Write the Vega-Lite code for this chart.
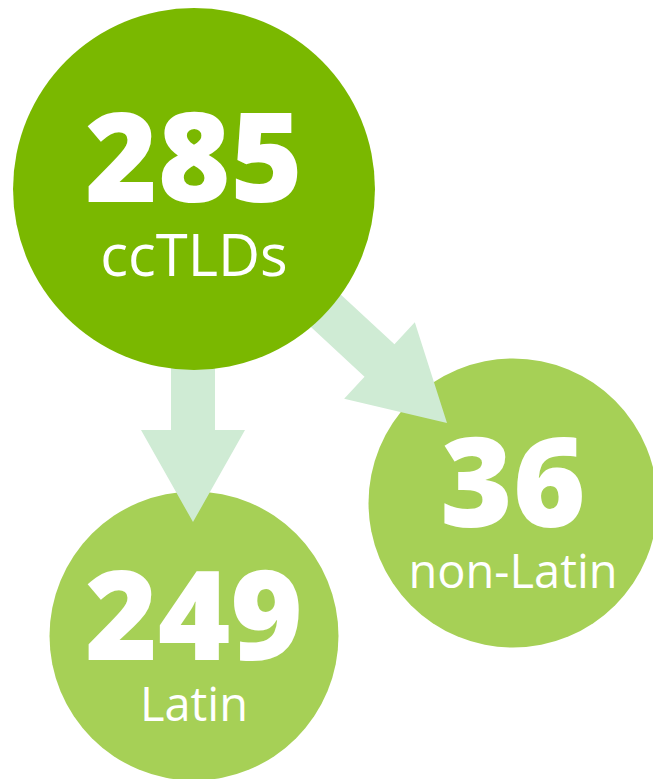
{
  "$schema": "https://vega.github.io/schema/vega-lite/v6.json",
  "width": 653,
  "height": 779,
  "padding": 0,
  "autosize": {"type": "none"},
  "background": "#ffffff",
  "config": {"view": {"stroke": null}},
  "datasets": {
    "nodes": [
      {"name": "ccTLDs", "count": 285, "level": "total", "cx": 194, "cy": 189},
      {"name": "Latin", "count": 249, "level": "subset", "cx": 194, "cy": 636},
      {"name": "non-Latin", "count": 36, "level": "subset", "cx": 513, "cy": 503}
    ],
    "links": [
      {"from": "ccTLDs", "to": "Latin", "tipx": 193, "tipy": 522, "angle": 0},
      {"from": "ccTLDs", "to": "non-Latin", "tipx": 447, "tipy": 423, "angle": -47.2}
    ]
  },
  "layer": [
    {
      "data": {"name": "nodes"},
      "transform": [{"filter": "datum.level === 'subset'"}],
      "mark": {"type": "point", "shape": "circle", "filled": true, "opacity": 1, "strokeWidth": 0},
      "encoding": {
        "x": {"field": "cx", "type": "quantitative", "scale": {"domain": [0, 653], "nice": false, "zero": false}, "axis": null},
        "y": {"field": "cy", "type": "quantitative", "scale": {"domain": [0, 779], "nice": false, "zero": false, "reverse": true}, "axis": null},
        "size": {"field": "level", "type": "nominal", "scale": {"domain": ["total", "subset"], "range": [131000, 83500]}, "legend": null},
        "color": {"field": "level", "type": "nominal", "scale": {"domain": ["total", "subset"], "range": ["#7ab800", "#a6d056"]}, "legend": null}
      }
    },
    {
      "data": {"name": "links"},
      "mark": {"type": "point", "shape": "M0,0 L-52,-92 L-22,-92 L-22,-240 L22,-240 L22,-92 L52,-92 Z", "size": 4, "filled": true, "opacity": 1, "strokeWidth": 0, "color": "#cfebd4"},
      "encoding": {
        "x": {"field": "tipx", "type": "quantitative"},
        "y": {"field": "tipy", "type": "quantitative"},
        "angle": {"field": "angle", "type": "quantitative", "scale": null}
      }
    },
    {
      "data": {"name": "nodes"},
      "transform": [{"filter": "datum.level === 'total'"}],
      "mark": {"type": "point", "shape": "circle", "filled": true, "opacity": 1, "strokeWidth": 0},
      "encoding": {
        "x": {"field": "cx", "type": "quantitative"},
        "y": {"field": "cy", "type": "quantitative"},
        "size": {"field": "level", "type": "nominal", "legend": null},
        "color": {"field": "level", "type": "nominal", "legend": null}
      }
    },
    {
      "data": {"name": "nodes"},
      "transform": [{"filter": "datum.level === 'total'"}],
      "mark": {"type": "text", "font": "Open Sans", "fontWeight": 800, "fontSize": 124, "color": "#ffffff", "align": "center", "baseline": "alphabetic", "dy": 13},
      "encoding": {
        "x": {"field": "cx", "type": "quantitative"},
        "y": {"field": "cy", "type": "quantitative"},
        "text": {"field": "count", "type": "quantitative"}
      }
    },
    {
      "data": {"name": "nodes"},
      "transform": [{"filter": "datum.level === 'subset'"}],
      "mark": {"type": "text", "font": "Open Sans", "fontWeight": 800, "fontSize": 124, "color": "#ffffff", "align": "center", "baseline": "alphabetic", "dy": 24},
      "encoding": {
        "x": {"field": "cx", "type": "quantitative"},
        "y": {"field": "cy", "type": "quantitative"},
        "text": {"field": "count", "type": "quantitative"}
      }
    },
    {
      "data": {"name": "nodes"},
      "transform": [{"filter": "datum.level === 'total'"}],
      "mark": {"type": "text", "font": "Open Sans", "fontWeight": "normal", "fontSize": 58, "color": "#ffffff", "align": "center", "baseline": "alphabetic", "dy": 87},
      "encoding": {
        "x": {"field": "cx", "type": "quantitative"},
        "y": {"field": "cy", "type": "quantitative"},
        "text": {"field": "name", "type": "nominal"}
      }
    },
    {
      "data": {"name": "nodes"},
      "transform": [{"filter": "datum.level === 'subset'"}],
      "mark": {"type": "text", "font": "Open Sans", "fontWeight": "normal", "fontSize": 47, "color": "#ffffff", "align": "center", "baseline": "alphabetic", "dy": 85},
      "encoding": {
        "x": {"field": "cx", "type": "quantitative"},
        "y": {"field": "cy", "type": "quantitative"},
        "text": {"field": "name", "type": "nominal"}
      }
    }
  ]
}
